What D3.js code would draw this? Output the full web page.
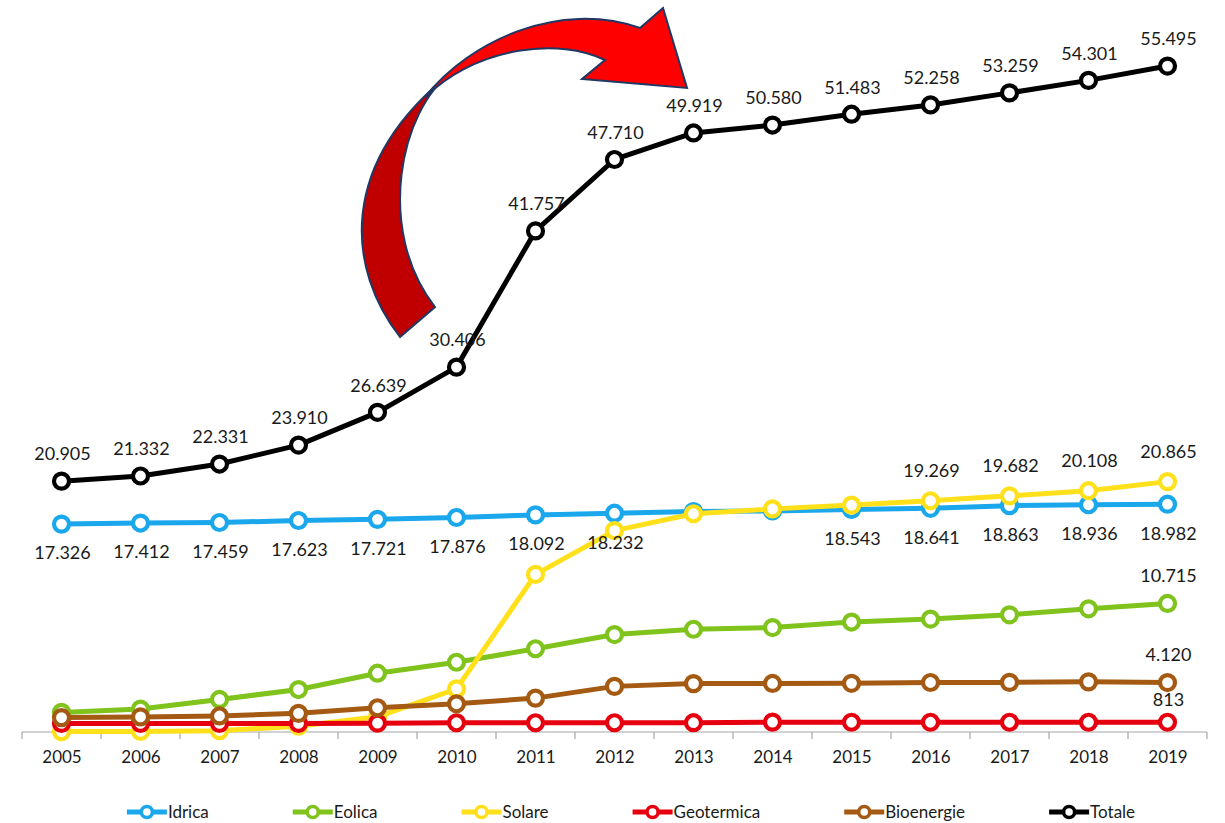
<!DOCTYPE html>
<html>
<head>
<meta charset="utf-8">
<script src="https://cdn.jsdelivr.net/npm/d3@7"></script>
<style>
  html, body { margin: 0; padding: 0; background: #ffffff; }
  svg { display: block; font-family: Lato, "Open Sans", sans-serif; }
</style>
</head>
<body>
<svg id="chart" width="1225" height="823"></svg>
<script>
// Installed renewable capacity in Italy (MW), 2005-2019
const years = ["2005","2006","2007","2008","2009","2010","2011","2012","2013","2014","2015","2016","2017","2018","2019"];
const idrica     = [17326, 17412, 17459, 17623, 17721, 17876, 18092, 18232, 18366, 18418, 18543, 18641, 18863, 18936, 18982];
const eolica     = [1633, 1908, 2714, 3538, 4898, 5814, 6936, 8119, 8561, 8703, 9162, 9410, 9766, 10265, 10715];
const solare     = [34, 45, 111, 483, 1264, 3592, 13132, 16785, 18186, 18594, 18908, 19269, 19682, 20108, 20865];
const geotermica = [711, 711, 711, 711, 737, 772, 772, 772, 773, 821, 813, 814, 813, 813, 813];
const bioenergie = [1201, 1256, 1336, 1555, 2019, 2352, 2825, 3802, 4033, 4044, 4057, 4124, 4135, 4179, 4120];
const totale     = [20905, 21332, 22331, 23910, 26639, 30406, 41757, 47710, 49919, 50580, 51483, 52258, 53259, 54301, 55495];

const seriesNames  = ["Idrica", "Eolica", "Solare", "Geotermica", "Bioenergie", "Totale"];
const seriesValues = [idrica, eolica, solare, geotermica, bioenergie, totale];
const seriesColors = ["#1AA7EC", "#7FC31C", "#FFE01B", "#E6000F", "#A45A13", "#000000"];

// which points carry a value label, and where it sits relative to the point
const labelRules = {
  Idrica:     { idx: [0,1,2,3,4,5,6,7,10,11,12,13,14], dy: 29 },
  Eolica:     { idx: [14], dy: -28 },
  Solare:     { idx: [11,12,13,14], dy: -30 },
  Geotermica: { idx: [14], dy: -23 },
  Bioenergie: { idx: [14], dy: -28 },
  Totale:     { idx: d3.range(15), dy: -27 }
};

const svg = d3.select("#chart");
const itFmt = d3.formatLocale({ decimal: ",", thousands: ".", grouping: [3], currency: ["€", ""] }).format(",d");

const left = 22, right = 1207, baseY = 732, topY = 12;
const xBand = d3.scaleBand().domain(years).range([left, right]).padding(0);
const x = d3.scalePoint().domain(years).range([left, right]).padding(0.5);
const y = d3.scaleLinear().domain([0, 60000]).range([baseY, topY]);

// category axis: gray base line with ticks between categories
const axisG = svg.append("g").attr("transform", `translate(0,${baseY})`);
axisG.append("line").attr("x1", left).attr("x2", right).attr("y1", 0).attr("y2", 0)
  .attr("stroke", "#A6A6A6").attr("stroke-width", 1.2);
axisG.selectAll("line.tick").data(years.concat(["end"])).join("line")
  .attr("class", "tick")
  .attr("x1", (d, i) => left + i * xBand.step()).attr("x2", (d, i) => left + i * xBand.step())
  .attr("y1", 0).attr("y2", 7).attr("stroke", "#A6A6A6").attr("stroke-width", 1.2);
const labelAxis = svg.append("g").attr("transform", `translate(0,${baseY})`)
  .call(d3.axisBottom(x).tickSize(0).tickPadding(19));
labelAxis.select(".domain").remove();
labelAxis.selectAll("text").attr("font-size", 17).attr("font-family", "Lato, sans-serif").attr("fill", "#1a1a1a");

// lines and hollow markers, in series order (later series on top)
const line = d3.line().x((d, i) => x(years[i])).y(d => y(d));
seriesNames.forEach((name, s) => {
  const vals = seriesValues[s];
  const g = svg.append("g").attr("class", "series-" + name);
  g.append("path").datum(vals).attr("d", line)
    .attr("fill", "none").attr("stroke", seriesColors[s]).attr("stroke-width", 5)
    .attr("stroke-linejoin", "round");
  g.selectAll("circle").data(vals).join("circle")
    .attr("cx", (d, i) => x(years[i])).attr("cy", d => y(d)).attr("r", 7.5)
    .attr("fill", "#ffffff").attr("stroke", seriesColors[s]).attr("stroke-width", 4.2);
});

// value labels
const labelG = svg.append("g").attr("font-size", 18).attr("fill", "#1a1a1a").attr("text-anchor", "middle");
seriesNames.forEach((name, s) => {
  const vals = seriesValues[s];
  const rule = labelRules[name];
  rule.idx.forEach(i => {
    labelG.append("text")
      .attr("x", x(years[i]) + 1)
      .attr("y", y(vals[i]) + rule.dy)
      .attr("dy", "0.35em")
      .text(itFmt(vals[i]));
  });
});

// legend: equal gaps between entries, centred under the plot
const legend = svg.append("g").attr("transform", "translate(0,812)");
const items = legend.selectAll("g.item").data(seriesNames).join("g").attr("class", "item");
items.append("line").attr("x1", 0).attr("x2", 40).attr("y1", 0).attr("y2", 0)
  .attr("stroke", (d, i) => seriesColors[i]).attr("stroke-width", 5);
items.append("circle").attr("cx", 20).attr("cy", 0).attr("r", 5.5)
  .attr("fill", "#fff").attr("stroke", (d, i) => seriesColors[i]).attr("stroke-width", 3.5);
items.append("text").attr("x", 41).attr("dy", "0.35em").attr("font-size", 17).attr("fill", "#1a1a1a").text(d => d);
const widths = [];
items.each(function () { widths.push(this.getBBox().width); });
const gap = 84;
const total = d3.sum(widths) + gap * (widths.length - 1);
let cx = 631 - total / 2;
items.attr("transform", (d, i) => { const t = `translate(${cx},0)`; cx += widths[i] + gap; return t; });

// curved callout arrow: darker back segment, bright front segment with head
const arrow = svg.append("g").attr("stroke", "#1F3864").attr("stroke-width", 2).attr("stroke-linejoin", "miter");
arrow.append("path")
  .attr("d", "M400,337 C348,270 335,165 452,72 C400,110 375,230 435,307 Z")
  .attr("fill", "#C00000");
arrow.append("path")
  .attr("d", "M425,97 C470,40 560,0 640,28 L663,8 L687,88 L582,79 L605,60 C560,38 480,45 425,97 Z")
  .attr("fill", "#FF0000");
</script>
</body>
</html>
